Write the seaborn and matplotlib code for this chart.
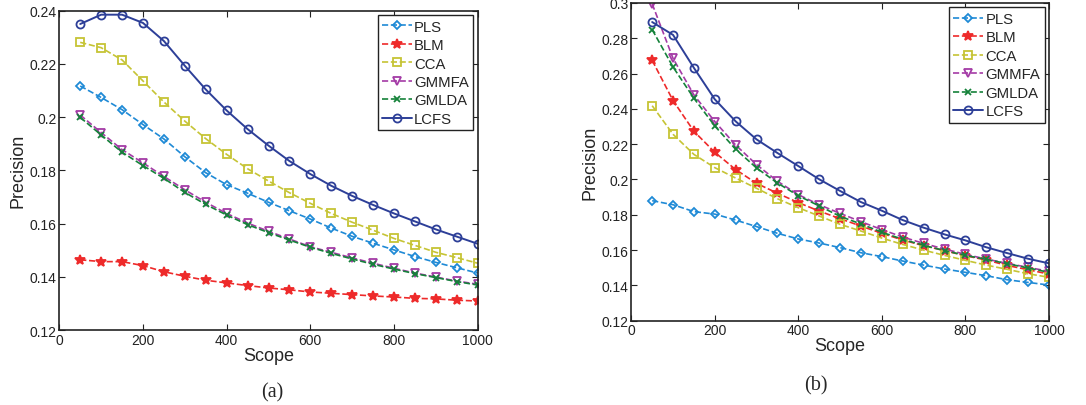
import numpy as np
import pandas as pd
import matplotlib
matplotlib.use('Agg')
import matplotlib.pyplot as plt
import seaborn as sns

sns.set_theme(style='white')
plt.rcParams['font.family'] = ['Liberation Sans', 'DejaVu Sans']

scope = [50, 100, 150, 200, 250, 300, 350, 400, 450, 500,
         550, 600, 650, 700, 750, 800, 850, 900, 950, 1000]
methods = ['PLS', 'BLM', 'CCA', 'GMMFA', 'GMLDA', 'LCFS']

# panel (a)
pls_a = [0.2117, 0.2074, 0.2028, 0.1972, 0.1918, 0.1851, 0.1791, 0.1746, 0.1714, 0.1680,
         0.1648, 0.1617, 0.1583, 0.1552, 0.1526, 0.1501, 0.1476, 0.1454, 0.1434, 0.1414]
blm_a = [0.1464, 0.1457, 0.1457, 0.1442, 0.1419, 0.1402, 0.1387, 0.1377, 0.1367, 0.1358,
         0.1351, 0.1343, 0.1338, 0.1333, 0.1328, 0.1324, 0.1319, 0.1317, 0.1312, 0.1309]
cca_a = [0.2281, 0.2261, 0.2215, 0.2136, 0.2057, 0.1985, 0.1919, 0.1860, 0.1806, 0.1760,
         0.1716, 0.1676, 0.1638, 0.1605, 0.1575, 0.1544, 0.1518, 0.1492, 0.1472, 0.1451]
gmmfa_a = [0.2008, 0.1942, 0.1878, 0.1828, 0.1777, 0.1727, 0.1680, 0.1638, 0.1602, 0.1571,
           0.1542, 0.1513, 0.1492, 0.1471, 0.1451, 0.1432, 0.1414, 0.1399, 0.1384, 0.1372]
gmlda_a = [0.1999, 0.1933, 0.1868, 0.1818, 0.1770, 0.1717, 0.1672, 0.1632, 0.1596, 0.1566,
           0.1538, 0.1511, 0.1488, 0.1467, 0.1447, 0.1429, 0.1412, 0.1397, 0.1382, 0.1369]
lcfs_a = [0.2350, 0.2385, 0.2385, 0.2354, 0.2286, 0.2193, 0.2104, 0.2025, 0.1955, 0.1893,
          0.1835, 0.1786, 0.1742, 0.1704, 0.1670, 0.1638, 0.1608, 0.1578, 0.1551, 0.1524]

# panel (b)
pls_b = [0.1880, 0.1857, 0.1818, 0.1804, 0.1770, 0.1733, 0.1695, 0.1663, 0.1640, 0.1614,
         0.1585, 0.1563, 0.1538, 0.1515, 0.1493, 0.1474, 0.1455, 0.1432, 0.1417, 0.1402]
blm_b = [0.2675, 0.2447, 0.2273, 0.2154, 0.2056, 0.1978, 0.1922, 0.1869, 0.1821, 0.1778,
         0.1736, 0.1695, 0.1657, 0.1625, 0.1597, 0.1568, 0.1544, 0.1513, 0.1489, 0.1464]
cca_b = [0.2418, 0.2256, 0.2142, 0.2067, 0.2008, 0.1950, 0.1891, 0.1840, 0.1793, 0.1746,
         0.1708, 0.1668, 0.1632, 0.1600, 0.1570, 0.1542, 0.1515, 0.1491, 0.1466, 0.1446]
gmmfa_b = [0.2995, 0.2686, 0.2479, 0.2328, 0.2195, 0.2084, 0.1990, 0.1914, 0.1857, 0.1808,
           0.1761, 0.1716, 0.1674, 0.1638, 0.1606, 0.1576, 0.1549, 0.1525, 0.1502, 0.1480]
gmlda_b = [0.2849, 0.2637, 0.2460, 0.2303, 0.2171, 0.2065, 0.1980, 0.1908, 0.1850, 0.1791,
           0.1748, 0.1701, 0.1661, 0.1627, 0.1597, 0.1570, 0.1548, 0.1523, 0.1499, 0.1474]
lcfs_b = [0.2892, 0.2819, 0.2632, 0.2454, 0.2329, 0.2227, 0.2150, 0.2076, 0.2001, 0.1935,
          0.1872, 0.1823, 0.1770, 0.1727, 0.1689, 0.1655, 0.1616, 0.1583, 0.1551, 0.1525]

yticks_a = [0.12, 0.14, 0.16, 0.18, 0.2, 0.22, 0.24]
yticks_b = [0.12, 0.14, 0.16, 0.18, 0.2, 0.22, 0.24, 0.26, 0.28, 0.3]
xticks = [0, 200, 400, 600, 800, 1000]

styles = {
    'PLS':   dict(color='#1f8ad6', marker='D', ms=4.3, ls='--', lw=1.2, mfc='none'),
    'BLM':   dict(color='#ee2a2a', marker='*', ms=7.0, ls='--', lw=1.2, mfc='#ee2a2a'),
    'CCA':   dict(color='#c6c435', marker='s', ms=5.3, ls='--', lw=1.2, mfc='none'),
    'GMMFA': dict(color='#a43ba6', marker='v', ms=6.3, ls='--', lw=1.2, mfc='none'),
    'GMLDA': dict(color='#15823a', marker='x', ms=4.8, ls='--', lw=1.2, mfc='none'),
    'LCFS':  dict(color='#2d3f98', marker='o', ms=5.8, ls='-', lw=1.4, mfc='none'),
}


def tick_fmt(v):
    s = f'{v:.2f}'.rstrip('0')
    return s


def draw_panel(ax, series, yticks, ylim):
    df = pd.DataFrame({'Scope': scope * len(methods),
                       'Precision': np.concatenate(series),
                       'method': np.repeat(methods, len(scope))})
    for m in methods:
        st = styles[m]
        sub = df[df['method'] == m]
        kw = dict(color=st['color'], marker=st['marker'], markersize=st['ms'],
                  linestyle=st['ls'], linewidth=st['lw'],
                  markerfacecolor=st['mfc'], markeredgecolor=st['color'],
                  markeredgewidth=1.3)
        if st['ls'] == '--':
            kw['dashes'] = (4, 3)
        sns.lineplot(data=sub, x='Scope', y='Precision', ax=ax, label=m, **kw)
    ax.set_xlim(0, 1000)
    ax.set_ylim(*ylim)
    ax.set_xticks(xticks)
    ax.set_xticklabels([str(x) for x in xticks], fontsize=10)
    ax.set_yticks(yticks)
    ax.set_yticklabels([tick_fmt(y) for y in yticks], fontsize=10)
    ax.set_xlabel('Scope', fontsize=13, labelpad=0)
    ax.set_ylabel('Precision', fontsize=13, labelpad=2)
    ax.tick_params(direction='in', length=4, width=0.8, top=True, right=True,
                   bottom=True, left=True, pad=2, colors='#222222')
    for sp in ax.spines.values():
        sp.set_color('#222222')
        sp.set_linewidth(1.2)
    leg = ax.legend(loc='upper right', fontsize=10.7, frameon=True, fancybox=False,
                    edgecolor='#222222', framealpha=1, borderpad=0.3,
                    labelspacing=0.3, handlelength=2.0, handletextpad=0.15,
                    borderaxespad=0.3)
    leg.get_frame().set_linewidth(1.0)


fig = plt.figure(figsize=(10.86, 4.06), dpi=100)
ax1 = fig.add_axes([0.0546, 0.1847, 0.3853, 0.7865])
ax2 = fig.add_axes([0.5813, 0.2076, 0.3846, 0.7826])

draw_panel(ax1, [pls_a, blm_a, cca_a, gmmfa_a, gmlda_a, lcfs_a], yticks_a, (0.12, 0.24))
draw_panel(ax2, [pls_b, blm_b, cca_b, gmmfa_b, gmlda_b, lcfs_b], yticks_b, (0.12, 0.3))

fig.text(272 / 1086, 1 - 393 / 406, '(a)', ha='center', va='center',
         fontsize=14.5, family='Liberation Serif')
fig.text(816 / 1086, 1 - 386 / 406, '(b)', ha='center', va='center',
         fontsize=14.5, family='Liberation Serif')

fig.savefig('out.png', dpi=100)
